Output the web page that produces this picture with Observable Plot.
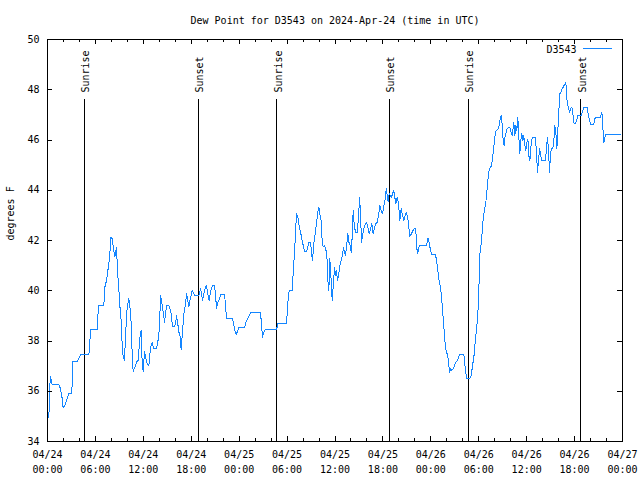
<!DOCTYPE html>
<html><head><meta charset="utf-8">
<script src="https://cdn.jsdelivr.net/npm/d3@7"></script>
<script src="https://cdn.jsdelivr.net/npm/@observablehq/plot@0.6"></script>
<style>body{margin:0;background:#fff} svg{display:block}</style>
</head><body><div id="chart"></div>
<script>
const titleText = "Dew Point for D3543 on 2024-Apr-24 (time in UTC)";
const yLabel = "degrees F";
const seriesName = "D3543";
const yTicks = [34, 36, 38, 40, 42, 44, 46, 48, 50];
const majorHours = [0, 6, 12, 18, 24, 30, 36, 42, 48, 54, 60, 66, 72];
const minorHours = [2, 4, 8, 10, 14, 16, 20, 22, 26, 28, 32, 34, 38, 40, 44, 46, 50, 52, 56, 58, 62, 64, 68, 70];
const dateLabels = ["04/24","04/24","04/24","04/24","04/25","04/25","04/25","04/25","04/26","04/26","04/26","04/26","04/27"];
const timeLabels = ["00:00","06:00","12:00","18:00","00:00","06:00","12:00","18:00","00:00","06:00","12:00","18:00","00:00"];
const sunHours = [4.67, 18.86, 28.72, 42.8, 52.68, 66.8];
const sunLabels = ["Sunrise", "Sunset", "Sunrise", "Sunset", "Sunrise", "Sunset"];
// [hours since 2024-04-24 00:00 UTC, dew point °F]
const obs = [
[0.17,34.97],[0.21,35.37],[0.25,36.1],[0.38,36.59],[0.46,36.43],[0.58,36.26],[1.42,36.26],[1.63,36.1],[1.84,35.71],[1.96,35.33],[2.25,35.5],[2.46,35.71],[2.67,35.91],[2.96,35.91],[3.09,36.23],[3.17,37.18],[3.71,37.18],[3.92,37.3],[4.13,37.45],[5.17,37.45],[5.26,37.69],[5.38,38.44],[6.22,38.44],[6.34,39.15],[6.42,39.41],[7.05,39.41],[7.18,40.14],[7.39,40.41],[7.60,40.9],[7.80,41.34],[7.89,42.13],[8.10,42.08],[8.30,41.6],[8.43,41.34],[8.52,41.54],[8.68,41.73],[8.72,41.0],[8.93,40.09],[9.06,39.41],[9.27,38.62],[9.35,37.82],[9.48,37.36],[9.64,37.22],[9.77,38.22],[9.98,39.35],[10.18,39.68],[10.39,39.15],[10.52,38.49],[10.60,37.45],[10.73,36.79],[10.94,36.96],[11.15,37.16],[11.35,37.22],[11.56,38.1],[11.73,38.42],[11.85,37.16],[11.98,36.79],[12.15,37.58],[12.27,37.36],[12.48,37.1],[12.69,37.0],
[12.90,37.75],[13.11,37.95],[13.31,37.69],[13.65,37.69],[13.81,37.95],[14.02,38.49],[14.15,39.81],[14.28,39.61],[14.36,39.41],[14.49,39.15],[14.65,38.75],[14.78,39.08],[14.90,39.41],[15.19,39.41],[15.32,39.28],[15.49,39.08],[15.65,38.58],[15.90,38.58],[16.03,38.68],[16.15,39.01],[16.32,38.68],[16.44,38.35],[16.57,38.29],[16.65,37.95],[16.74,37.65],[16.87,38.22],[17.07,39.08],[17.28,39.48],[17.41,39.88],[17.57,39.61],[17.70,39.35],[17.82,39.61],[17.99,39.81],[18.12,40.01],[18.24,39.94],[18.41,39.81],[18.74,39.81],[18.95,39.81],[19.07,39.94],[19.16,40.08],[19.28,39.88],[19.41,39.61],[19.57,39.88],[19.78,40.14],[19.91,40.21],[20.07,39.88],[20.24,39.61],[20.41,39.94],[20.58,40.14],[20.66,40.21],[20.91,40.21],[21.04,39.88],[21.16,39.28],[21.33,39.54],[21.54,39.68],[21.66,39.84],[22.16,39.84],[22.29,39.48],[22.41,38.88],[23.17,38.88],[23.33,38.62],[23.46,38.42],[23.63,38.25],[23.83,38.42],[24.00,38.55],[24.71,38.55],[24.83,38.75],[25.00,38.84],[25.21,38.98],[25.42,39.12],[26.67,39.12],[26.80,38.68],[26.92,38.15],[27.09,38.35],[27.26,38.44],[28.68,38.44],
[28.84,38.71],[29.93,38.71],[30.01,39.08],[30.14,39.68],[30.26,40.01],[30.68,40.01],[30.76,40.74],[30.93,41.47],[31.05,42.27],[31.18,43.06],[31.35,42.93],[31.47,42.66],[31.60,42.46],[31.77,42.2],[31.89,42.0],[32.02,41.8],[32.18,41.57],[32.43,41.57],[32.60,41.74],[32.72,41.93],[32.93,41.93],[33.06,41.53],[33.18,41.2],[33.35,41.87],[33.52,42.27],[33.68,42.66],[33.85,43.13],[33.98,43.33],[34.10,43.06],[34.27,42.8],[34.40,41.93],[34.52,41.74],[34.69,41.8],[34.85,41.67],[35.02,41.2],[35.10,40.41],[35.23,40.01],[35.35,41.27],[35.52,40.41],[35.65,39.61],[35.77,40.14],[35.94,40.94],[36.06,40.61],[36.19,40.81],[36.31,40.41],[36.44,40.61],[36.60,41.0],[36.77,41.2],[36.94,41.4],[37.07,41.74],[37.19,41.53],[37.32,41.4],[37.44,41.74],[37.61,42.27],[37.73,41.93],[37.86,41.87],[38.03,41.53],[38.15,42.13],[38.28,43.19],[38.41,42.6],[38.57,42.33],[38.78,42.33],[38.95,42.93],[39.07,43.72],[39.20,43.06],[39.32,41.93],[39.45,42.2],[39.61,42.46],[39.82,42.66],[39.95,42.73],[40.11,42.53],[40.28,42.27],[40.45,42.46],[40.61,42.66],[40.78,42.27],[40.95,42.53],[41.11,42.66],[41.28,42.73],[41.49,43.06],[41.61,43.39],[41.79,43.19],[41.95,43.06],[42.12,43.39],[42.29,43.66],[42.41,44.06],[42.54,43.79],[42.66,43.53],[42.79,43.86],[42.95,43.79],[43.08,43.72],[43.20,43.86],[43.37,43.99],[43.49,43.72],[43.62,43.46],[43.79,43.72],[43.95,43.46],[44.12,42.8],
[44.29,43.26],[44.45,43.0],[44.62,42.8],[44.79,43.0],[44.95,43.13],[45.12,42.86],[45.29,42.4],[45.37,42.16],[45.67,42.33],[45.87,42.46],[46.12,42.46],[46.21,41.73],[46.37,41.49],[46.50,41.73],[46.62,41.8],[47.46,41.8],[47.63,42.1],[47.79,41.93],[47.96,41.6],[48.13,41.44],[48.59,41.44],[48.71,41.2],[48.88,40.81],[49.00,40.47],[49.21,40.14],[49.34,39.74],[49.46,39.28],[49.63,38.55],[49.75,38.02],[49.93,37.55],[50.05,37.49],[50.21,37.22],[50.34,36.76],[50.47,36.89],[50.63,36.83],[50.80,36.89],[50.97,37.02],[51.13,37.16],[51.30,37.2],[51.47,37.36],[51.63,37.46],[52.14,37.46],[52.22,37.16],[52.39,36.72],[52.47,36.5],[52.89,36.5],[53.06,36.63],[53.22,37.02],[53.39,37.36],[53.51,37.82],[53.68,38.35],[53.81,38.75],[53.93,39.35],[54.01,40.01],[54.14,41.47],
[54.35,42.0],[54.47,42.53],[54.60,43.0],[54.72,43.19],[54.89,43.53],[55.01,43.92],[55.14,44.39],[55.26,44.72],[55.39,44.89],[55.56,44.95],[55.68,45.18],[55.81,45.51],[55.97,45.98],[56.10,46.31],[56.22,46.38],[56.39,46.41],[56.51,46.51],[56.64,46.78],[56.81,46.97],[56.93,46.64],[57.06,45.98],[57.18,45.78],[57.31,46.18],[57.43,46.31],[57.56,46.45],[57.73,46.51],[57.89,46.51],[58.06,46.31],[58.19,46.18],[58.31,46.51],[58.39,46.71],[58.52,46.18],[58.64,46.58],[58.77,46.38],[58.89,46.91],[59.02,46.11],[59.14,45.45],[59.27,45.98],[59.39,46.25],[59.52,45.98],[59.64,46.18],[59.77,45.78],[59.90,45.58],[60.02,45.91],[60.15,46.04],[60.27,45.38],[60.40,45.18],[60.52,45.71],[60.65,46.04],[60.77,46.11],[61.11,46.11],[61.23,45.45],[61.36,44.72],[61.48,45.18],[61.61,45.65],[61.74,45.45],[61.86,45.18],[62.36,45.18],[62.49,45.71],[62.61,46.11],[62.74,45.58],[62.86,44.69],[62.99,45.45],[63.11,45.65],[63.28,45.65],[63.40,45.98],[63.53,46.58],[63.65,46.31],[63.78,45.65],[63.90,46.38],[64.03,47.17],[64.15,47.84],[64.28,47.9],[64.45,48.04],[64.57,48.1],[64.74,48.21],[64.90,48.29],[64.99,47.9],[65.07,47.5],[65.20,47.3],[65.37,47.11],[65.49,47.24],[65.66,47.3],[65.78,47.04],[65.95,46.64],[66.12,46.64],[66.24,46.78],[66.41,46.97],[66.83,46.97],[66.96,47.11],[67.16,47.28],[67.58,47.28],[67.71,47.04],[67.87,46.78],[68.00,46.62],[68.41,46.62],[68.54,46.84],[68.66,46.91],[69.25,46.91],[69.37,47.11],[69.46,47.0],[69.58,46.25],[69.67,45.91],[69.79,46.11],[69.92,46.22],[71.75,46.22]
];

const W = 640, H = 480, mt = 39, mr = 18, mb = 39, ml = 47;
const ph = H - mt - mb, pw = W - ml - mr;
const font = "'DejaVu Sans Mono', monospace";
const lineColor = "#1486ff";
const sunInset = Math.round(ph * 0.15);
const crisp = {shapeRendering: "crispEdges"};

const chart = Plot.plot({
  width: W, height: H,
  marginTop: mt, marginRight: mr, marginBottom: mb, marginLeft: ml,
  style: {fontFamily: font, fontSize: "10px", color: "black", background: "white", overflow: "visible"},
  x: {domain: [0, 72], axis: null},
  y: {domain: [34, 50], axis: null},
  marks: [
    Plot.ruleX(sunHours, {x: d => d, insetTop: sunInset, stroke: "black", strokeWidth: 1, ...crisp}),
    Plot.text(sunHours, {x: d => d, text: (d, i) => sunLabels[i], frameAnchor: "top", lineAnchor: "middle", dy: sunInset - 7, dx: 1.5, rotate: -90, textAnchor: "start", fill: "black"}),
    Plot.line(obs, {x: d => d[0], y: d => d[1], stroke: lineColor, strokeWidth: 1, ...crisp}),
    Plot.frame({stroke: "black", strokeWidth: 1, ...crisp}),
    Plot.tickX(majorHours, {x: d => d, insetTop: ph - 5, stroke: "black", ...crisp}),
    Plot.tickX(majorHours, {x: d => d, insetBottom: ph - 5, stroke: "black", ...crisp}),
    Plot.tickX(minorHours, {x: d => d, insetTop: ph - 3, stroke: "black", ...crisp}),
    Plot.tickX(minorHours, {x: d => d, insetBottom: ph - 3, stroke: "black", ...crisp}),
    Plot.tickY(yTicks, {y: d => d, insetRight: pw - 5, stroke: "black", ...crisp}),
    Plot.tickY(yTicks, {y: d => d, insetLeft: pw - 5, stroke: "black", ...crisp}),
    Plot.text(majorHours, {x: d => d, text: (d, i) => dateLabels[i], frameAnchor: "bottom", lineAnchor: "middle", dy: 13, fill: "black"}),
    Plot.text(majorHours, {x: d => d, text: (d, i) => timeLabels[i], frameAnchor: "bottom", lineAnchor: "middle", dy: 28, fill: "black"}),
    Plot.text(yTicks, {y: d => d, text: d => String(d), frameAnchor: "left", lineAnchor: "middle", textAnchor: "end", dx: -8, fill: "black"}),
    Plot.text([yLabel], {text: d => d, frameAnchor: "left", lineAnchor: "middle", rotate: -90, dx: -37, fill: "black"}),
    Plot.text([titleText], {text: d => d, frameAnchor: "top", lineAnchor: "middle", dy: -19, fill: "black"}),
    Plot.text([seriesName], {text: d => d, frameAnchor: "top-right", lineAnchor: "middle", dx: -46, dy: 10, textAnchor: "end", fill: "black"})
  ]
});

// legend sample line
d3.select(chart).append("line")
  .attr("x1", W - mr - 39).attr("x2", W - mr - 10)
  .attr("y1", mt + 9.5).attr("y2", mt + 9.5)
  .attr("stroke", lineColor).attr("stroke-width", 1)
  .attr("shape-rendering", "crispEdges");

document.getElementById("chart").appendChild(chart);
</script>
</body></html>
